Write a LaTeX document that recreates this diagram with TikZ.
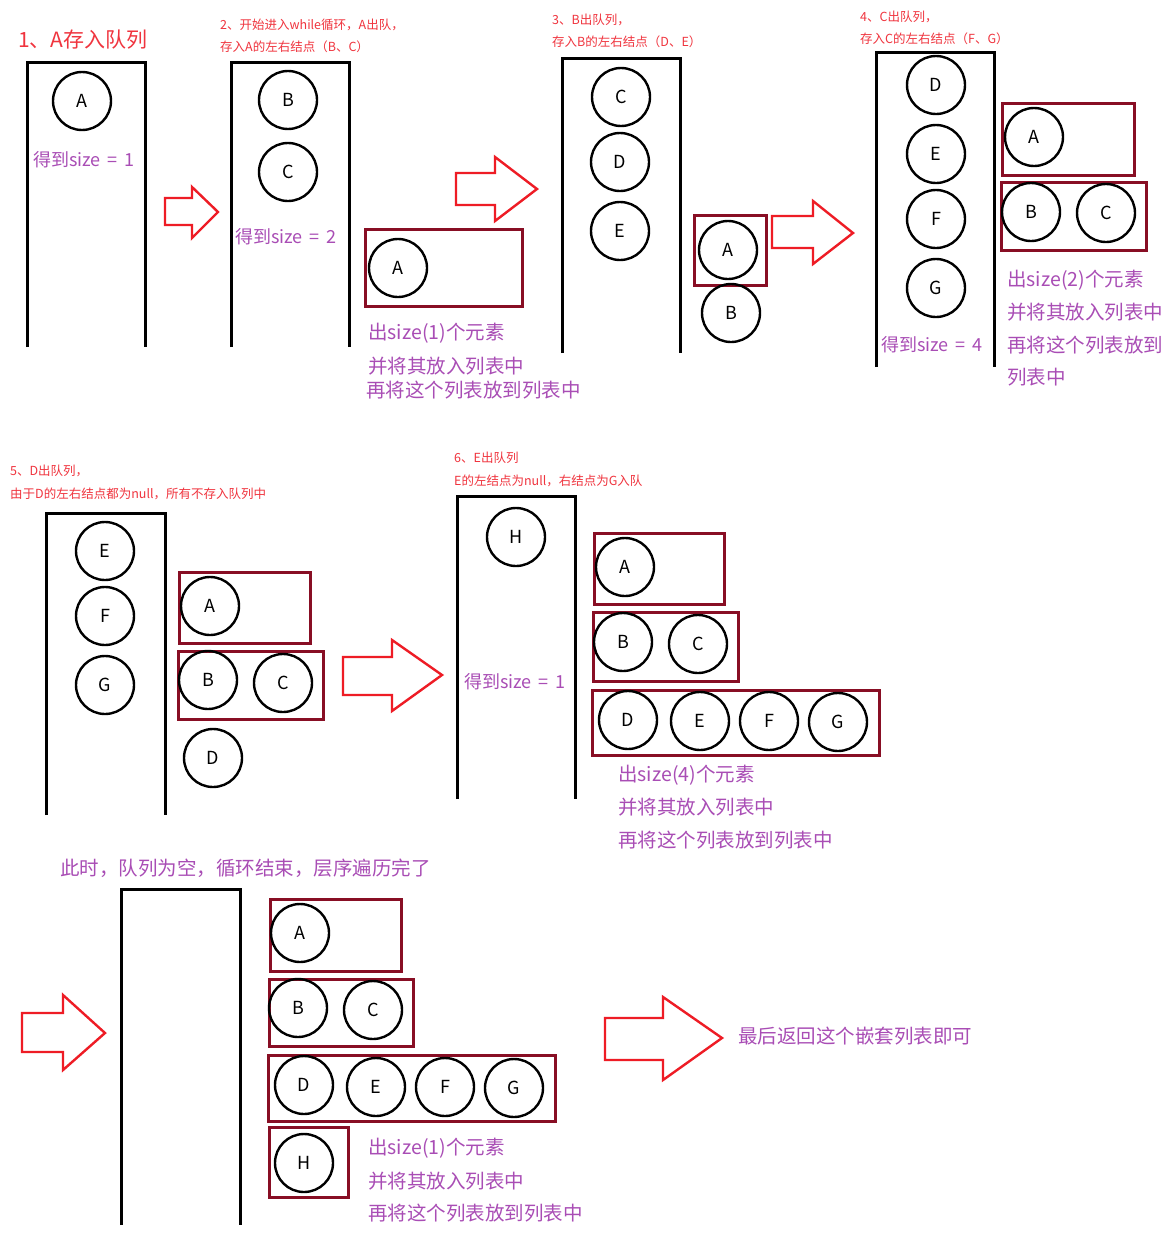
\documentclass[tikz,border=0pt]{standalone}
\usepackage{fontspec}
\setmainfont{Noto Sans CJK SC}
\definecolor{titlered}{HTML}{F0343E}
\definecolor{arrred}{HTML}{EE1C25}
\definecolor{boxred}{HTML}{880E24}
\definecolor{purp}{HTML}{A94DB5}
\newcommand\myfs[1]{\fontsize{#1}{#1}\selectfont}
\newcommand\szeq[1]{得到size\hspace{7pt}=\hspace{7pt}#1}
\tikzset{
  qline/.style={line width=3pt, black, line join=miter},
  circ/.style={circle, draw, line width=2.4pt, minimum size=58pt, inner sep=0pt, font=\myfs{18}},
  lbox/.style={draw=boxred, line width=2.8pt, inner sep=0pt, anchor=north west},
  bigarrow/.style={draw=arrred, line width=2.4pt, line join=miter},
  ttlbig/.style={text=titlered, anchor=west, inner sep=0pt, font=\myfs{21}},
  ttl/.style={text=titlered, anchor=west, inner sep=0pt, font=\myfs{12.5}},
  sz/.style={text=purp, anchor=west, inner sep=0pt, font=\myfs{18}},
  pl/.style={text=purp, anchor=west, inner sep=0pt, font=\myfs{19.5}},
}
\begin{document}
\begin{tikzpicture}[x=1pt, y=-1pt]
\useasboundingbox (0,0) rectangle (1174,1242);
\fill[white] (0,0) rectangle (1174,1242);

% ---------- panel 1 ----------
\node[ttlbig] (t1) at (18,40) {1、A存入队列};
\draw[qline] (27,347) -- (27,62) -- (145,62) -- (145,347);
\node[circ] (p1A) at (82,101) {A};
\node[sz] (p1s) at (33,160) {\szeq{1}};
\draw[bigarrow] (165,198) -- (192,198) -- (192,187) -- (218,212) -- (192,238) -- (192,225) -- (165,225) -- cycle;

% ---------- panel 2 ----------
\node[ttl] (t2a) at (220,25) {2、开始进入while循环，A出队，};
\node[ttl] (t2b) at (220,47) {存入A的左右结点（B、C）};
\draw[qline] (231,347) -- (231,62) -- (349,62) -- (349,347);
\node[circ] (p2B) at (288,100) {B};
\node[circ] (p2C) at (288,172) {C};
\node[sz] (p2s) at (235,237) {\szeq{2}};
\node[lbox, minimum width=157pt, minimum height=77pt] (p2L1) at (364,228) {};
\node[circ] (p2A) at (398,268) {A};
\node[pl] (p2t1) at (368,333) {出size(1)个元素};
\node[pl] (p2t2) at (368,366) {并将其放入列表中};
\node[pl] (p2t3) at (366,390) {再将这个列表放到列表中};
\draw[bigarrow] (456,173) -- (495,173) -- (495,157) -- (537,189) -- (495,221) -- (495,205) -- (456,205) -- cycle;

% ---------- panel 3 ----------
\node[ttl] (t3a) at (552,20) {3、B出队列，};
\node[ttl] (t3b) at (552,42) {存入B的左右结点（D、E）};
\draw[qline] (562,353) -- (562,58) -- (680,58) -- (680,353);
\node[circ] (p3C) at (621,97) {C};
\node[circ] (p3D) at (620,162) {D};
\node[circ] (p3E) at (620,231) {E};
\node[lbox, minimum width=72pt, minimum height=70pt] (p3L1) at (693,214) {};
\node[circ] (p3A) at (728,250) {A};
\node[circ] (p3B) at (731,313) {B};
\draw[bigarrow] (772,216) -- (813,216) -- (813,201) -- (853,233) -- (813,264) -- (813,248) -- (772,248) -- cycle;

% ---------- panel 4 ----------
\node[ttl] (t4a) at (860,17) {4、C出队列，};
\node[ttl] (t4b) at (860,39) {存入C的左右结点（F、G）};
\draw[qline] (876,367) -- (876,52) -- (994,52) -- (994,367);
\node[circ] (p4D) at (936,85) {D};
\node[circ] (p4E) at (936,154) {E};
\node[circ] (p4F) at (936,219) {F};
\node[circ] (p4G) at (936,288) {G};
\node[sz] (p4s) at (881,345) {\szeq{4}};
\node[lbox, minimum width=132pt, minimum height=72pt] (p4L1) at (1001,102) {};
\node[circ] (p4A) at (1034,137) {A};
\node[lbox, minimum width=145pt, minimum height=68pt] (p4L2) at (1000,181) {};
\node[circ] (p4B) at (1031,212) {B};
\node[circ] (p4C) at (1106,213) {C};
\node[pl] (p4t1) at (1007,280) {出size(2)个元素};
\node[pl] (p4t2) at (1007,312) {并将其放入列表中};
\node[pl] (p4t3) at (1007,345) {再将这个列表放到};
\node[pl] (p4t4) at (1007,377) {列表中};

% ---------- panel 5 ----------
\node[ttl] (t5a) at (10,471) {5、D出队列，};
\node[ttl] (t5b) at (10,494) {由于D的左右结点都为null，所有不存入队列中};
\draw[qline] (46,815) -- (46,513) -- (165,513) -- (165,815);
\node[circ] (p5E) at (105,551) {E};
\node[circ] (p5F) at (105,616) {F};
\node[circ] (p5G) at (105,685) {G};
\node[lbox, minimum width=131pt, minimum height=71pt] (p5L1) at (178,571) {};
\node[circ] (p5A) at (210,606) {A};
\node[lbox, minimum width=145pt, minimum height=68pt] (p5L2) at (177,650) {};
\node[circ] (p5B) at (208,680) {B};
\node[circ] (p5C) at (283,683) {C};
\node[circ] (p5D) at (213,758) {D};
\draw[bigarrow] (343,657) -- (392,657) -- (392,640) -- (442,675) -- (392,711) -- (392,695) -- (343,695) -- cycle;

% ---------- panel 6 ----------
\node[ttl] (t6a) at (454,458) {6、E出队列};
\node[ttl] (t6b) at (454,481) {E的左结点为null，右结点为G入队};
\draw[qline] (457,799) -- (457,496) -- (575,496) -- (575,799);
\node[circ] (p6H) at (516,537) {H};
\node[sz] (p6s) at (464,682) {\szeq{1}};
\node[lbox, minimum width=130pt, minimum height=71pt] (p6L1) at (593,532) {};
\node[circ] (p6A) at (625,567) {A};
\node[lbox, minimum width=145pt, minimum height=69pt] (p6L2) at (592,611) {};
\node[circ] (p6B) at (623,642) {B};
\node[circ] (p6C) at (698,644) {C};
\node[lbox, minimum width=287pt, minimum height=65pt] (p6L3) at (591,689) {};
\node[circ] (p6D) at (628,720) {D};
\node[circ] (p6E) at (700,721) {E};
\node[circ] (p6F) at (769,721) {F};
\node[circ] (p6G) at (838,722) {G};
\node[pl] (p6t1) at (618,775) {出size(4)个元素};
\node[pl] (p6t2) at (618,807) {并将其放入列表中};
\node[pl] (p6t3) at (618,840) {再将这个列表放到列表中};

% ---------- panel 7 ----------
\node[pl] (t7) at (60,868) {此时，队列为空，循环结束，层序遍历完了};
\draw[bigarrow] (22,1013) -- (63,1013) -- (63,995) -- (105,1033) -- (63,1070) -- (63,1052) -- (22,1052) -- cycle;
\draw[qline] (121,1225) -- (121,889) -- (240,889) -- (240,1225);
\node[lbox, minimum width=131pt, minimum height=72pt] (p7L1) at (269,898) {};
\node[circ] (p7A) at (300,933) {A};
\node[lbox, minimum width=144pt, minimum height=67pt] (p7L2) at (268,978) {};
\node[circ] (p7B) at (298,1008) {B};
\node[circ] (p7C) at (373,1010) {C};
\node[lbox, minimum width=287pt, minimum height=66pt] (p7L3) at (267,1054) {};
\node[circ] (p7D) at (304,1085) {D};
\node[circ] (p7E) at (376,1087) {E};
\node[circ] (p7F) at (445,1087) {F};
\node[circ] (p7G) at (514,1088) {G};
\node[lbox, minimum width=79pt, minimum height=70pt] (p7L4) at (268,1126) {};
\node[circ] (p7H) at (304,1163) {H};
\node[pl] (p7t1) at (368,1148) {出size(1)个元素};
\node[pl] (p7t2) at (368,1181) {并将其放入列表中};
\node[pl] (p7t3) at (368,1213) {再将这个列表放到列表中};
\draw[bigarrow] (605,1018) -- (663,1018) -- (663,997) -- (722,1038) -- (663,1080) -- (663,1060) -- (605,1060) -- cycle;
\node[pl] (fin) at (738,1036) {最后返回这个嵌套列表即可};
\end{tikzpicture}
\end{document}
